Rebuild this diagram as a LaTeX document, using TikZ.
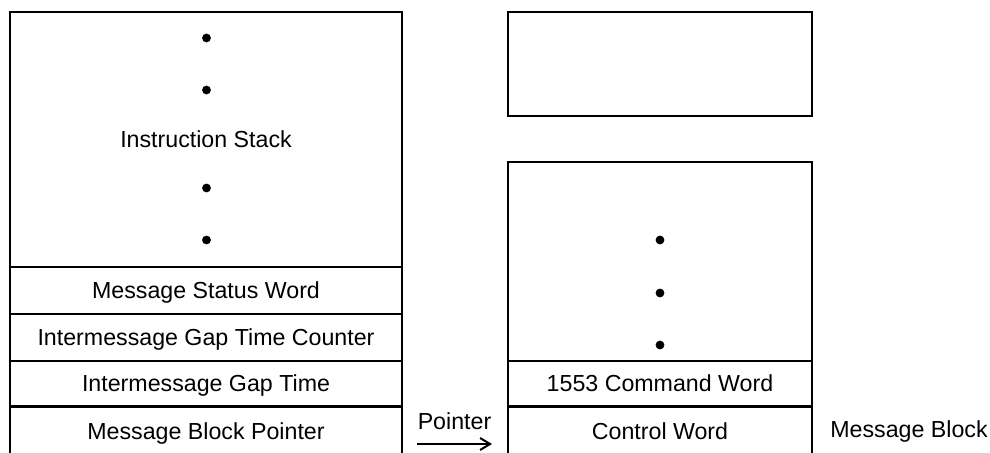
\documentclass[tikz,border=0pt]{standalone}
\usepackage{fontspec}
\setmainfont{Liberation Sans}
\usetikzlibrary{arrows.meta}
\usetikzlibrary{positioning,calc}
\newcommand\rowh{23.5pt}
\newcommand\shortrowh{22.75pt}
\newcommand\lastrowh{25.5pt}
\newcommand\leftw{196pt}
\newcommand\rightw{152pt}

\begin{document}
\begin{tikzpicture}[x=0.5pt,y=-0.5pt,
    cell/.style={draw,line width=1.1pt,outer sep=0pt,inner sep=0pt,
      text height=8pt,text depth=0pt,font=\fontsize{11.6}{14}\selectfont},
    dot/.style={circle,fill,inner sep=0pt,minimum size=4.4pt},
    lbl/.style={inner sep=0pt,font=\fontsize{11.6}{14}\selectfont},
    arr/.style={-{Straight Barb[length=5pt,width=6pt]},line width=1pt}
  ]
    \useasboundingbox (0,0) rectangle (990,453);
    \clip (0,0) rectangle (990,453);

    % instruction list
    \node[cell,minimum width=\leftw,minimum height=127.5pt] (stack) at (206,139.5) {Instruction Stack};
    \node[cell,minimum width=\leftw,minimum height=\rowh,below=0pt of stack] (msw) {Message Status Word};
    \node[cell,minimum width=\leftw,minimum height=\rowh,below=0pt of msw] (igtc) {Intermessage Gap Time Counter};
    \node[cell,minimum width=\leftw,minimum height=\shortrowh,below=0pt of igtc] (igt) {Intermessage Gap Time};
    \node[cell,minimum width=\leftw,minimum height=\lastrowh,below=0pt of igt] (mbp) {Message Block Pointer};

    \foreach \y [count=\i] in {38,90,188,240}
      \node[dot] (ldot\i) at (206.5,\y) {};

    % message block
    \node[cell,minimum width=\rightw,minimum height=52pt] (spare) at (660,64) {};
    \node[cell,minimum width=\rightw,minimum height=99.5pt] (blk) at (660,261.5) {};
    \node[cell,minimum width=\rightw,minimum height=\shortrowh,below=0pt of blk] (cmd) {1553 Command Word};
    \node[cell,minimum width=\rightw,minimum height=\lastrowh,below=0pt of cmd] (cw) {Control Word};

    \foreach \y [count=\i] in {240,293,345}
      \node[dot] (rdot\i) at (660,\y) {};

    \node[lbl,right=9pt of cw] (mblk) {Message Block};

    \coordinate (ptrs) at ([shift={(15,12)}]mbp.east);
    \coordinate (ptre) at ([shift={(-16,12)}]cw.west);
    \draw[arr] (ptrs) -- (ptre);
    \node[lbl,above=7pt] (ptrlbl) at ($(ptrs)!0.5!(ptre)$) {Pointer};
\end{tikzpicture}
\end{document}
